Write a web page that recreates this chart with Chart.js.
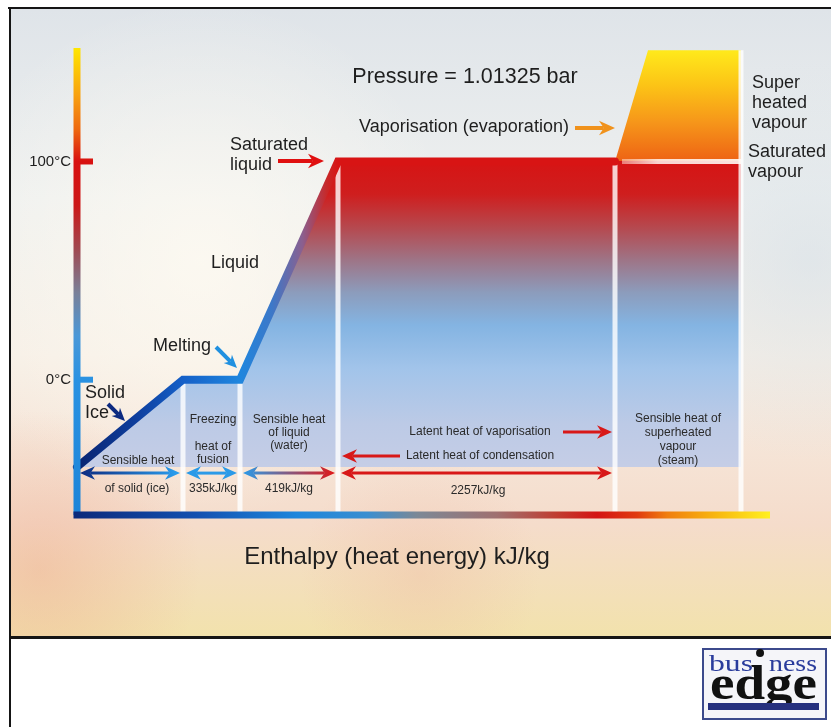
<!DOCTYPE html>
<html>
<head>
<meta charset="utf-8">
<title>Heating curve of water</title>
<script src="https://cdn.jsdelivr.net/npm/chart.js@4.4.1/dist/chart.umd.min.js"></script>
<style>
  html, body { margin: 0; padding: 0; background: #fff; }
  canvas { display: block; }
</style>
</head>
<body>
<canvas id="myChart" width="831" height="727"></canvas>
<script>
// heating curve of water at 1.01325 bar, enthalpy axis is schematic (not to scale)
const curveEnthalpy = [0, 106, 163, 261, 538];
const curveTemp = [-40, 0, 0, 100, 100];
const steamEnthalpy = [571, 664];
const steamTemp = [151, 151];
const sectionEdges = [106, 163, 261, 538, 664];
const sectionTops = [0, 0, 100, 100, 151];
const tickValues = [100, 0];
const tickLabels = ['100°C', '0°C'];
const heatValues = ['335kJ/kg', '419kJ/kg', '2257kJ/kg'];

const FONT = '"Liberation Sans", Arial, sans-serif';

function vGradient(chart, stops) {
    const y = chart.scales.y;
    const top = y.getPixelForValue(y.max), bottom = y.getPixelForValue(y.min);
    const g = chart.ctx.createLinearGradient(0, top, 0, bottom);
    stops.forEach(function (s) {
        g.addColorStop(Math.min(1, Math.max(0, (y.getPixelForValue(s[0]) - top) / (bottom - top))), s[1]);
    });
    return g;
}

function hGradient(chart, stops) {
    const x = chart.scales.x;
    const left = x.getPixelForValue(x.min), right = x.getPixelForValue(x.max);
    const g = chart.ctx.createLinearGradient(left, 0, right, 0);
    stops.forEach(function (s) {
        g.addColorStop(Math.min(1, Math.max(0, (x.getPixelForValue(s[0]) - left) / (right - left))), s[1]);
    });
    return g;
}

function fillGradient(chart) {
    if (!chart.chartArea) return '#ccc';
    return vGradient(chart, [
        [152, '#ffec1c'], [135, '#fcc416'], [118, '#f6961a'], [100.5, '#ee6414'],
        [100, '#d61414'], [85, '#cf1e1e'], [70, '#b6484e'], [55, '#9e7486'],
        [40, '#8c9cbc'], [25, '#84b4e2'], [5, '#a2c4ea'], [-20, '#bccae6'], [-62, '#cfd1e6']
    ]);
}

function curveGradient(chart) {
    if (!chart.chartArea) return '#1560c8';
    return hGradient(chart, [
        [0, '#0a2470'], [60, '#0e3f9e'], [106, '#1560c8'], [163, '#1f86de'],
        [195, '#3d78c8'], [225, '#8a6090'], [250, '#c82828'], [261, '#d81414'], [693, '#d81414']
    ]);
}

function text(ctx, s, x, y, size, align, color) {
    ctx.font = size + 'px ' + FONT;
    ctx.fillStyle = color || '#1e1e1e';
    ctx.textAlign = align || 'left';
    ctx.textBaseline = 'middle';
    ctx.fillText(s, x, y);
}

function head(ctx, x1, y1, x2, y2, hl) {
    const a = Math.atan2(y2 - y1, x2 - x1), c = Math.cos(a), s = Math.sin(a), hw = hl * 0.45;
    const bx = x2 - hl * c, by = y2 - hl * s;
    ctx.beginPath();
    ctx.moveTo(x2, y2);
    ctx.lineTo(bx - hw * s, by + hw * c);
    ctx.lineTo(x2 - hl * 0.7 * c, y2 - hl * 0.7 * s);
    ctx.lineTo(bx + hw * s, by - hw * c);
    ctx.closePath();
    ctx.fill();
}

function arrow(ctx, x1, y1, x2, y2, color, w, hl, both) {
    const a = Math.atan2(y2 - y1, x2 - x1), c = Math.cos(a), s = Math.sin(a);
    ctx.strokeStyle = color;
    ctx.fillStyle = color;
    ctx.lineWidth = w;
    ctx.beginPath();
    ctx.moveTo(both ? x1 + hl * 0.7 * c : x1, both ? y1 + hl * 0.7 * s : y1);
    ctx.lineTo(x2 - hl * 0.7 * c, y2 - hl * 0.7 * s);
    ctx.stroke();
    head(ctx, x1, y1, x2, y2, hl);
    if (both) head(ctx, x2, y2, x1, y1, hl);
}

function drawBackground(ctx) {
    ctx.save();
    ctx.fillStyle = '#ffffff';
    ctx.fillRect(0, 0, 831, 727);
    const bg = ctx.createLinearGradient(0, 9, 0, 637);
    bg.addColorStop(0, '#dfe4e9');
    bg.addColorStop(0.3, '#eef0ef');
    bg.addColorStop(0.55, '#f6efe6');
    bg.addColorStop(0.82, '#f5dccb');
    bg.addColorStop(1, '#f2e2ac');
    ctx.fillStyle = bg;
    ctx.fillRect(10, 9, 821, 628);
    const spots = [
        [200, 260, 260, 'rgba(255,251,242,0.75)'],
        [40, 570, 160, 'rgba(238,170,140,0.45)'],
        [420, 575, 120, 'rgba(238,185,160,0.35)'],
        [810, 260, 200, 'rgba(214,224,232,0.6)']
    ];
    spots.forEach(function (p) {
        const r = ctx.createRadialGradient(p[0], p[1], 0, p[0], p[1], p[2]);
        r.addColorStop(0, p[3]);
        r.addColorStop(1, p[3].replace(/[\d.]+\)$/, '0)'));
        ctx.fillStyle = r;
        ctx.fillRect(10, 9, 821, 628);
    });
    ctx.fillStyle = '#151515';
    ctx.fillRect(8, 7, 823, 2);
    ctx.fillRect(9, 7, 2, 720);
    ctx.fillRect(9, 636, 822, 3);
    ctx.restore();
}

function drawSeparators(chart) {
    const ctx = chart.ctx, x = chart.scales.x, y = chart.scales.y;
    ctx.save();
    ctx.strokeStyle = 'rgba(255,255,255,0.8)';
    ctx.lineWidth = 5;
    sectionEdges.forEach(function (h, i) {
        ctx.beginPath();
        ctx.moveTo(x.getPixelForValue(h), y.getPixelForValue(sectionTops[i]));
        ctx.lineTo(x.getPixelForValue(h), y.getPixelForValue(y.min));
        ctx.stroke();
    });
    // saturated vapour line inside the superheated block
    const g = ctx.createLinearGradient(x.getPixelForValue(545), 0, x.getPixelForValue(664), 0);
    g.addColorStop(0, 'rgba(255,230,220,0.5)');
    g.addColorStop(0.3, 'rgba(255,245,240,0.85)');
    g.addColorStop(1, 'rgba(255,250,245,0.9)');
    ctx.strokeStyle = g;
    ctx.beginPath();
    ctx.moveTo(x.getPixelForValue(545), y.getPixelForValue(100));
    ctx.lineTo(x.getPixelForValue(664), y.getPixelForValue(100));
    ctx.stroke();
    ctx.restore();
}

function drawAxes(chart) {
    const ctx = chart.ctx, x = chart.scales.x, y = chart.scales.y;
    const x0 = x.getPixelForValue(0), yb = y.getPixelForValue(y.min);
    const yGrad = vGradient(chart, [
        [152, '#ffe600'], [130, '#f8a010'], [115, '#ee6a10'], [100, '#d81010'], [80, '#cc1818'],
        [60, '#a04850'], [40, '#7a8098'], [20, '#4a98d8'], [0, '#2a92e2'], [-62, '#1c84d8']
    ]);
    ctx.save();
    ctx.lineCap = 'butt';
    ctx.strokeStyle = yGrad;
    ctx.lineWidth = 7;
    ctx.beginPath();
    ctx.moveTo(x0, y.getPixelForValue(y.max));
    ctx.lineTo(x0, yb);
    ctx.stroke();
    ctx.lineWidth = 6;
    tickValues.forEach(function (v, i) {
        const py = y.getPixelForValue(v);
        ctx.strokeStyle = yGrad;
        ctx.beginPath();
        ctx.moveTo(x0, py);
        ctx.lineTo(x0 + 16, py);
        ctx.stroke();
        text(ctx, tickLabels[i], x0 - 6, py, 15, 'right');
    });
    ctx.strokeStyle = hGradient(chart, [
        [0, '#0b2a7c'], [120, '#1450b0'], [220, '#1e86dc'], [290, '#3a8ed0'], [340, '#7c8896'],
        [420, '#a07070'], [480, '#c03c30'], [520, '#d41414'], [560, '#e03a10'], [590, '#f07e10'],
        [640, '#f8b810'], [693, '#fff020']
    ]);
    ctx.lineWidth = 7;
    ctx.beginPath();
    ctx.moveTo(x0 - 3.5, yb);
    ctx.lineTo(x.getPixelForValue(x.max), yb);
    ctx.stroke();
    ctx.restore();
}

function drawArrows(chart) {
    const ctx = chart.ctx, x = chart.scales.x, y = chart.scales.y;
    const row = y.getPixelForValue(-42.8);
    const spans = [[0, 106], [106, 163], [163, 261], [261, 538]];
    const colors = [
        ['#0c2a80', '#2aa0f0'], ['#2a9ae8', '#2a9ae8'], ['#2a9ae8', '#e01818'], ['#d81818', '#d81818']
    ];
    ctx.save();
    spans.forEach(function (s, i) {
        const a = x.getPixelForValue(s[0]) + 3, b = x.getPixelForValue(s[1]) - 3;
        const g = ctx.createLinearGradient(a, 0, b, 0);
        g.addColorStop(0, colors[i][0]);
        g.addColorStop(1, colors[i][1]);
        arrow(ctx, a, row, b, row, g, 3, 15, true);
    });
    arrow(ctx, 575, 128, 615, 128, '#f0921c', 4, 16, false);
    arrow(ctx, 278, 161, 324, 161, '#e01010', 4, 16, false);
    arrow(ctx, 216, 347, 237, 368, '#2090e0', 4, 13, false);
    arrow(ctx, 108, 404, 125, 421, '#0c2a80', 4, 13, false);
    arrow(ctx, 563, 432, 612, 432, '#d81818', 3, 15, false);
    arrow(ctx, 400, 456, 342, 456, '#d81818', 3, 15, false);
    ctx.restore();
}

function drawLabels(chart) {
    const ctx = chart.ctx;
    ctx.save();
    text(ctx, 'Pressure = 1.01325 bar', 465, 77, 21.5, 'center');
    text(ctx, 'Vaporisation (evaporation)', 464, 127, 18, 'center');
    text(ctx, 'Super', 752, 83, 18);
    text(ctx, 'heated', 752, 103, 18);
    text(ctx, 'vapour', 752, 123, 18);
    text(ctx, 'Saturated', 748, 152, 18);
    text(ctx, 'vapour', 748, 172, 18);
    text(ctx, 'Saturated', 230, 145, 18);
    text(ctx, 'liquid', 230, 165, 18);
    text(ctx, 'Liquid', 211, 263, 18);
    text(ctx, 'Melting', 153, 346, 18);
    text(ctx, 'Solid', 85, 393, 18);
    text(ctx, 'Ice', 85, 413, 18);

    const c = '#2a2a2a';
    text(ctx, 'Sensible heat', 138, 461, 12, 'center', c);
    text(ctx, 'of solid (ice)', 137, 489, 12, 'center', c);
    text(ctx, 'Freezing', 213, 420, 12, 'center', c);
    text(ctx, 'heat of', 213, 447, 12, 'center', c);
    text(ctx, 'fusion', 213, 460, 12, 'center', c);
    text(ctx, heatValues[0], 213, 489, 12, 'center', c);
    text(ctx, 'Sensible heat', 289, 420, 12, 'center', c);
    text(ctx, 'of liquid', 289, 433, 12, 'center', c);
    text(ctx, '(water)', 289, 446, 12, 'center', c);
    text(ctx, heatValues[1], 289, 489, 12, 'center', c);
    text(ctx, 'Latent heat of vaporisation', 480, 432, 12, 'center', c);
    text(ctx, 'Latent heat of condensation', 480, 456, 12, 'center', c);
    text(ctx, heatValues[2], 478, 491, 12, 'center', c);
    text(ctx, 'Sensible heat of', 678, 419, 12, 'center', c);
    text(ctx, 'superheated', 678, 433, 12, 'center', c);
    text(ctx, 'vapour', 678, 447, 12, 'center', c);
    text(ctx, '(steam)', 678, 461, 12, 'center', c);

    text(ctx, 'Enthalpy (heat energy) kJ/kg', 397, 557, 24, 'center');
    ctx.restore();
}

function fitText(ctx, s, x, baseline, width) {
    const w = ctx.measureText(s).width;
    ctx.save();
    ctx.translate(x, baseline);
    ctx.scale(width / w, 1);
    ctx.fillText(s, 0, 0);
    ctx.restore();
    return width / w;
}

function drawLogo(ctx) {
    ctx.save();
    ctx.fillStyle = '#f5f5f9';
    ctx.fillRect(702, 648, 125, 72);
    ctx.strokeStyle = '#3c4a8c';
    ctx.lineWidth = 2;
    ctx.strokeRect(703, 649, 123, 70);
    ctx.textAlign = 'left';
    ctx.textBaseline = 'alphabetic';
    ctx.fillStyle = '#111';
    ctx.font = 'bold 48px "Liberation Serif", "DejaVu Serif", serif';
    const k = fitText(ctx, 'edge', 710, 699, 107);
    // the ascender of "d" doubles as the "i" of business
    const stemX = 710 + ctx.measureText('ed').width * k - 5;
    ctx.beginPath();
    ctx.arc(stemX, 653, 4, 0, Math.PI * 2);
    ctx.fill();
    ctx.font = '23px "Liberation Serif", "DejaVu Serif", serif';
    ctx.fillStyle = '#2a3c9c';
    fitText(ctx, 'bus', 709, 671, stemX - 716);
    fitText(ctx, 'ness', stemX + 9, 671, 817 - stemX - 9);
    ctx.fillStyle = '#26307e';
    ctx.fillRect(708, 703, 111, 7);
    ctx.restore();
}

const heatingCurvePlugin = {
    id: 'heatingCurve',
    beforeDraw: function (chart) { drawBackground(chart.ctx); },
    afterDatasetDraw: function (chart, args) { if (args.index === 1) drawSeparators(chart); },
    afterDatasetsDraw: function (chart) { drawAxes(chart); drawArrows(chart); drawLabels(chart); },
    afterDraw: function (chart) { drawLogo(chart.ctx); }
};

const curvePoints = curveEnthalpy.map(function (h, i) { return {x: h, y: curveTemp[i]}; });
const regionPoints = curvePoints.concat(steamEnthalpy.map(function (h, i) { return {x: h, y: steamTemp[i]}; }));

new Chart(document.getElementById('myChart'), {
    type: 'line',
    data: {
        datasets: [{
            label: 'Heating curve',
            data: curvePoints,
            borderColor: function (c) { return curveGradient(c.chart); },
            borderWidth: 8,
            borderCapStyle: 'round',
            fill: false,
            pointRadius: 0,
            clip: false
        }, {
            label: 'Phase regions',
            data: regionPoints,
            backgroundColor: function (c) { return fillGradient(c.chart); },
            borderWidth: 0,
            fill: {value: -40},
            pointRadius: 0,
            clip: false
        }]
    },
    options: {
        responsive: false,
        animation: false,
        devicePixelRatio: 1,
        layout: {padding: {left: 77, right: 61, top: 48, bottom: 212}},
        scales: {
            x: {type: 'linear', min: 0, max: 693, display: false},
            y: {type: 'linear', min: -62, max: 152, display: false}
        },
        plugins: {legend: {display: false}, tooltip: {enabled: false}}
    },
    plugins: [heatingCurvePlugin]
});
</script>
</body>
</html>
